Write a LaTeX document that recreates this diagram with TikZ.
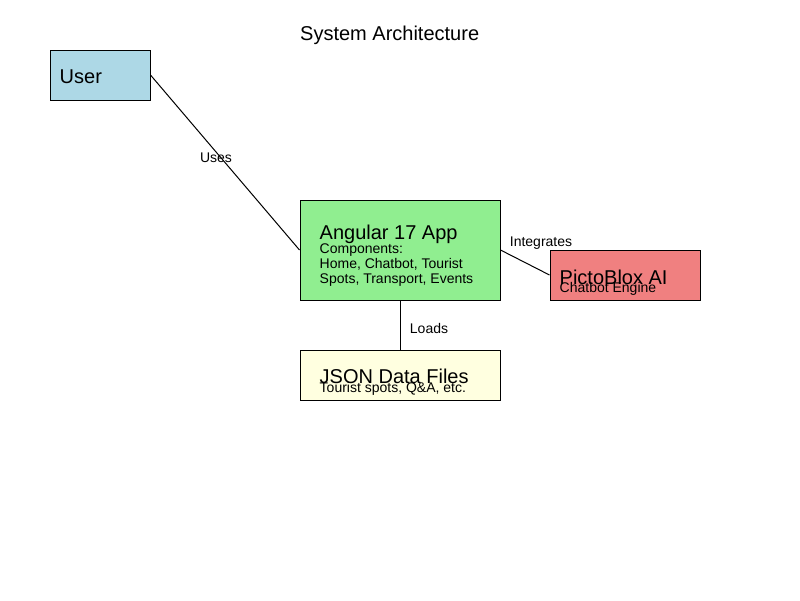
\documentclass[tikz,border=0pt]{standalone}
\usepackage{fontspec}
\setmainfont{Liberation Sans}
\usetikzlibrary{positioning,calc}

\definecolor{userblue}{RGB}{173,216,230}
\definecolor{appgreen}{RGB}{144,238,144}
\definecolor{aired}{RGB}{240,128,128}
\definecolor{datayellow}{RGB}{255,255,224}

\begin{document}
\begin{tikzpicture}[x=1pt,y=-1pt,on grid,
	box/.style={draw=black,line width=1pt,inner sep=0pt},
	big/.style={anchor=base west,inner sep=0pt,font=\fontsize{20}{24}\selectfont},
	small/.style={anchor=base west,inner sep=0pt,align=left,font=\fontsize{14}{15}\selectfont},
	lbl/.style={inner sep=0pt,font=\fontsize{14}{16}\selectfont}]

	\fill[white] (0,0) rectangle (800,600);
	\useasboundingbox (0,0) rectangle (800,600);

	\node[big] (title) at (300,40) {System Architecture};

	\node[box,fill=appgreen,minimum width=200pt,minimum height=100pt] (app) at (400,250) {};
	\node[box,fill=userblue,minimum width=100pt,minimum height=50pt] (user) [above left=175pt and 300pt of app] {};
	\node[box,fill=aired,minimum width=150pt,minimum height=50pt] (ai) [below right=25pt and 225pt of app] {};
	\node[box,fill=datayellow,minimum width=200pt,minimum height=50pt] (data) [below=125pt of app] {};

	% box texts
	\node[big] (usert) at ($(user.north west)+(10,34)$) {User};
	\node[big] (appt) at ($(app.north west)+(20,39.5)$) {Angular 17 App};
	\node[small] (appc) at ($(app.north west)+(20,83.5)$) {Components:\\Home, Chatbot, Tourist\\Spots, Transport, Events};
	\node[big] (ait) at ($(ai.north west)+(10,34.5)$) {PictoBlox AI};
	\node[small] (aic) at ($(ai.north west)+(10,43)$) {Chatbot Engine};
	\node[big] (datat) at ($(data.north west)+(20,34)$) {JSON Data Files};
	\node[small] (datac) at ($(data.north west)+(20,42.5)$) {Tourist spots, Q\&A, etc.};

	\draw[line width=1pt] (user.east) -- node[lbl,pos=.5,xshift=-9pt,yshift=4.5pt] (uses) {Uses} (app.west);
	\draw[line width=1pt] (app.east) -- node[lbl,pos=.5,xshift=16pt,yshift=19.5pt] (integ) {Integrates} (ai.west);
	\draw[line width=1pt] (app.south) -- node[lbl,pos=.5,xshift=29pt,yshift=-3pt] (loads) {Loads} (data.north);

\end{tikzpicture}
\end{document}
